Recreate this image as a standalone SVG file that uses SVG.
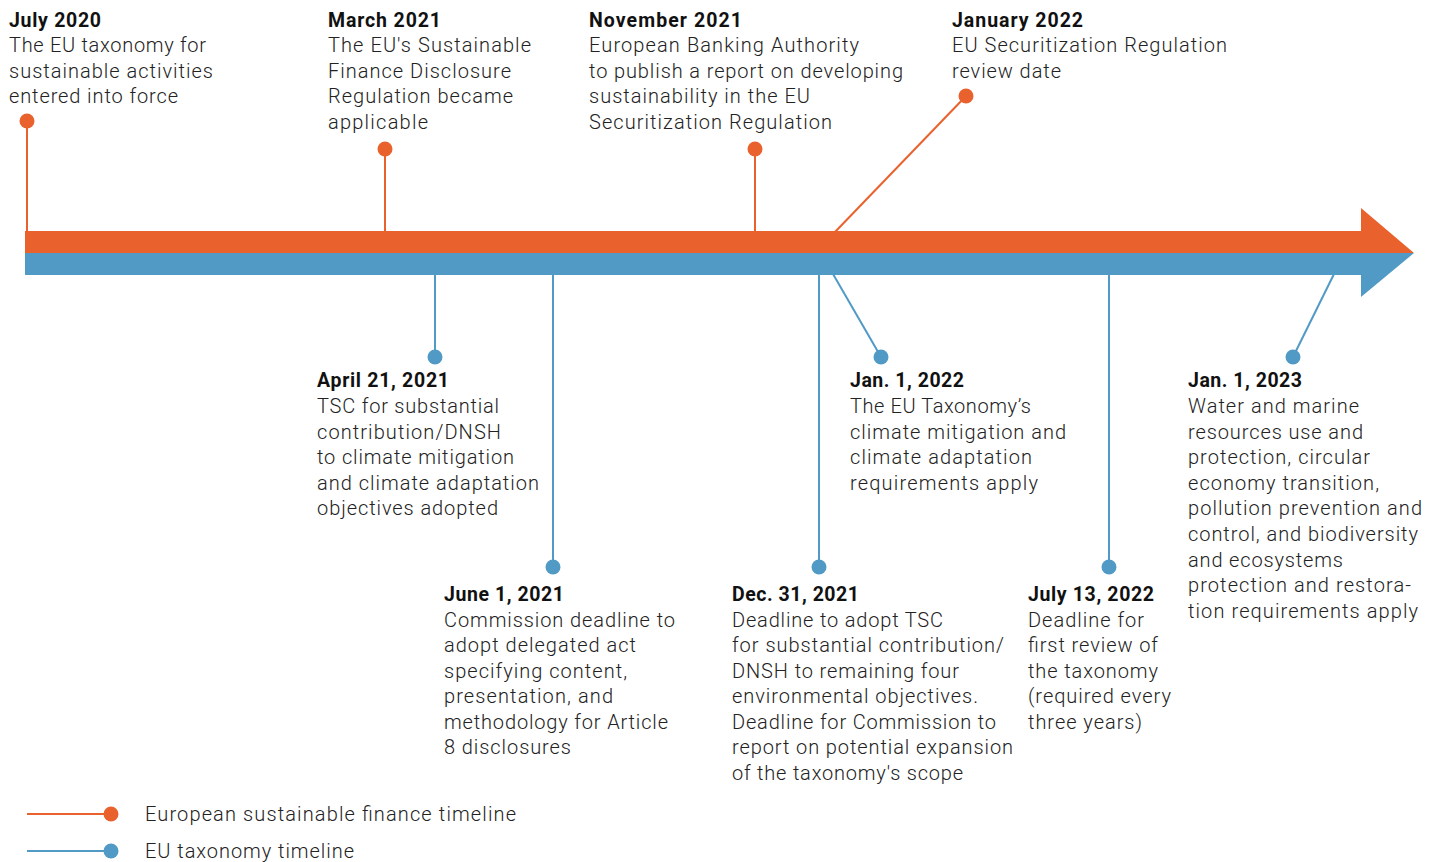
<svg xmlns="http://www.w3.org/2000/svg" width="1440" height="862" viewBox="0 0 1440 862">
<style>
.t{font-family:"Roboto","Liberation Sans",sans-serif;font-size:19.5px;font-weight:700;fill:#111}
.b{font-family:"Roboto","Liberation Sans",sans-serif;font-size:20px;font-weight:300;fill:#222}
.lo{stroke:#E9622D;stroke-width:2;fill:none}
.lb{stroke:#519AC6;stroke-width:2;fill:none}
.do{fill:#E9622D}
.db{fill:#519AC6}
</style>
<rect width="1440" height="862" fill="#fff"/>
<g id="connectors">
<line class="lo" x1="27" y1="121" x2="27" y2="232"/>
<line class="lo" x1="385" y1="149" x2="385" y2="232"/>
<line class="lo" x1="755" y1="149" x2="755" y2="232"/>
<line class="lo" x1="835" y1="232" x2="966" y2="96"/>
<line class="lb" x1="435" y1="274" x2="435" y2="357"/>
<line class="lb" x1="553" y1="274" x2="553" y2="567"/>
<line class="lb" x1="819" y1="274" x2="819" y2="567"/>
<line class="lb" x1="833" y1="274" x2="881" y2="357"/>
<line class="lb" x1="1109" y1="274" x2="1109" y2="567"/>
<line class="lb" x1="1334" y1="274" x2="1293" y2="357"/>
</g>
<g id="timeline-arrow">
<polygon points="25,231 1361,231 1361,208 1414,253 25,253" fill="#E9622D"/>
<polygon points="25,253 1414,253 1361,297 1361,275 25,275" fill="#519AC6"/>
</g>
<g id="july-2020">
<circle class="do" cx="27" cy="121" r="7.5"/>
<text class="t" x="9" y="27" textLength="92" lengthAdjust="spacing">July 2020</text>
<text class="b" x="9" y="52" textLength="197" lengthAdjust="spacing">The EU taxonomy for</text>
<text class="b" x="9" y="78" textLength="204" lengthAdjust="spacing">sustainable activities</text>
<text class="b" x="9" y="103" textLength="169" lengthAdjust="spacing">entered into force</text>
</g>
<g id="march-2021">
<circle class="do" cx="385" cy="149" r="7.5"/>
<text class="t" x="328" y="27" textLength="113" lengthAdjust="spacing">March 2021</text>
<text class="b" x="328" y="52" textLength="203" lengthAdjust="spacing">The EU's Sustainable</text>
<text class="b" x="328" y="78" textLength="183" lengthAdjust="spacing">Finance Disclosure</text>
<text class="b" x="328" y="103" textLength="185" lengthAdjust="spacing">Regulation became</text>
<text class="b" x="328" y="129" textLength="100" lengthAdjust="spacing">applicable</text>
</g>
<g id="november-2021">
<circle class="do" cx="755" cy="149" r="7.5"/>
<text class="t" x="589" y="27" textLength="153" lengthAdjust="spacing">November 2021</text>
<text class="b" x="589" y="52" textLength="270" lengthAdjust="spacing">European Banking Authority</text>
<text class="b" x="589" y="78" textLength="314" lengthAdjust="spacing">to publish a report on developing</text>
<text class="b" x="589" y="103" textLength="221" lengthAdjust="spacing">sustainability in the EU</text>
<text class="b" x="589" y="129" textLength="243" lengthAdjust="spacing">Securitization Regulation</text>
</g>
<g id="january-2022">
<circle class="do" cx="966" cy="96" r="7.5"/>
<text class="t" x="952" y="27" textLength="131" lengthAdjust="spacing">January 2022</text>
<text class="b" x="952" y="52" textLength="275" lengthAdjust="spacing">EU Securitization Regulation</text>
<text class="b" x="952" y="78" textLength="109" lengthAdjust="spacing">review date</text>
</g>
<g id="april-21-2021">
<circle class="db" cx="435" cy="357" r="7.5"/>
<text class="t" x="317" y="387" textLength="132" lengthAdjust="spacing">April 21, 2021</text>
<text class="b" x="317" y="413" textLength="182" lengthAdjust="spacing">TSC for substantial</text>
<text class="b" x="317" y="439" textLength="184" lengthAdjust="spacing">contribution/DNSH</text>
<text class="b" x="317" y="464" textLength="197" lengthAdjust="spacing">to climate mitigation</text>
<text class="b" x="317" y="490" textLength="222" lengthAdjust="spacing">and climate adaptation</text>
<text class="b" x="317" y="515" textLength="181" lengthAdjust="spacing">objectives adopted</text>
</g>
<g id="june-1-2021">
<circle class="db" cx="553" cy="567" r="7.5"/>
<text class="t" x="444" y="601" textLength="120" lengthAdjust="spacing">June 1, 2021</text>
<text class="b" x="444" y="627" textLength="231" lengthAdjust="spacing">Commission deadline to</text>
<text class="b" x="444" y="652" textLength="192" lengthAdjust="spacing">adopt delegated act</text>
<text class="b" x="444" y="678" textLength="183" lengthAdjust="spacing">specifying content,</text>
<text class="b" x="444" y="703" textLength="169" lengthAdjust="spacing">presentation, and</text>
<text class="b" x="444" y="729" textLength="224" lengthAdjust="spacing">methodology for Article</text>
<text class="b" x="444" y="754" textLength="127" lengthAdjust="spacing">8 disclosures</text>
</g>
<g id="dec-31-2021">
<circle class="db" cx="819" cy="567" r="7.5"/>
<text class="t" x="732" y="601" textLength="127" lengthAdjust="spacing">Dec. 31, 2021</text>
<text class="b" x="732" y="627" textLength="211" lengthAdjust="spacing">Deadline to adopt TSC</text>
<text class="b" x="732" y="652" textLength="272" lengthAdjust="spacing">for substantial contribution/</text>
<text class="b" x="732" y="678" textLength="227" lengthAdjust="spacing">DNSH to remaining four</text>
<text class="b" x="732" y="703" textLength="246" lengthAdjust="spacing">environmental objectives.</text>
<text class="b" x="732" y="729" textLength="264" lengthAdjust="spacing">Deadline for Commission to</text>
<text class="b" x="732" y="754" textLength="281" lengthAdjust="spacing">report on potential expansion</text>
<text class="b" x="732" y="780" textLength="231" lengthAdjust="spacing">of the taxonomy's scope</text>
</g>
<g id="jan-1-2022">
<circle class="db" cx="881" cy="357" r="7.5"/>
<text class="t" x="850" y="387" textLength="114" lengthAdjust="spacing">Jan. 1, 2022</text>
<text class="b" x="850" y="413" textLength="181" lengthAdjust="spacing">The EU Taxonomy’s</text>
<text class="b" x="850" y="439" textLength="216" lengthAdjust="spacing">climate mitigation and</text>
<text class="b" x="850" y="464" textLength="182" lengthAdjust="spacing">climate adaptation</text>
<text class="b" x="850" y="490" textLength="188" lengthAdjust="spacing">requirements apply</text>
</g>
<g id="july-13-2022">
<circle class="db" cx="1109" cy="567" r="7.5"/>
<text class="t" x="1028" y="601" textLength="126" lengthAdjust="spacing">July 13, 2022</text>
<text class="b" x="1028" y="627" textLength="116" lengthAdjust="spacing">Deadline for</text>
<text class="b" x="1028" y="652" textLength="130" lengthAdjust="spacing">first review of</text>
<text class="b" x="1028" y="678" textLength="130" lengthAdjust="spacing">the taxonomy</text>
<text class="b" x="1028" y="703" textLength="143" lengthAdjust="spacing">(required every</text>
<text class="b" x="1028" y="729" textLength="114" lengthAdjust="spacing">three years)</text>
</g>
<g id="jan-1-2023">
<circle class="db" cx="1293" cy="357" r="7.5"/>
<text class="t" x="1188" y="387" textLength="114" lengthAdjust="spacing">Jan. 1, 2023</text>
<text class="b" x="1188" y="413" textLength="171" lengthAdjust="spacing">Water and marine</text>
<text class="b" x="1188" y="439" textLength="175" lengthAdjust="spacing">resources use and</text>
<text class="b" x="1188" y="464" textLength="182" lengthAdjust="spacing">protection, circular</text>
<text class="b" x="1188" y="490" textLength="191" lengthAdjust="spacing">economy transition,</text>
<text class="b" x="1188" y="515" textLength="234" lengthAdjust="spacing">pollution prevention and</text>
<text class="b" x="1188" y="541" textLength="230" lengthAdjust="spacing">control, and biodiversity</text>
<text class="b" x="1188" y="567" textLength="155" lengthAdjust="spacing">and ecosystems</text>
<text class="b" x="1188" y="592" textLength="223" lengthAdjust="spacing">protection and restora-</text>
<text class="b" x="1188" y="618" textLength="230" lengthAdjust="spacing">tion requirements apply</text>
</g>
<g id="legend">
<line class="lo" x1="27" y1="814" x2="111" y2="814"/>
<circle class="do" cx="111" cy="814" r="7.5"/>
<text class="b" x="145" y="821" textLength="371" lengthAdjust="spacing">European sustainable finance timeline</text>
<line class="lb" x1="27" y1="851" x2="111" y2="851"/>
<circle class="db" cx="111" cy="851" r="7.5"/>
<text class="b" x="145" y="858" textLength="209" lengthAdjust="spacing">EU taxonomy timeline</text>
</g>
</svg>
